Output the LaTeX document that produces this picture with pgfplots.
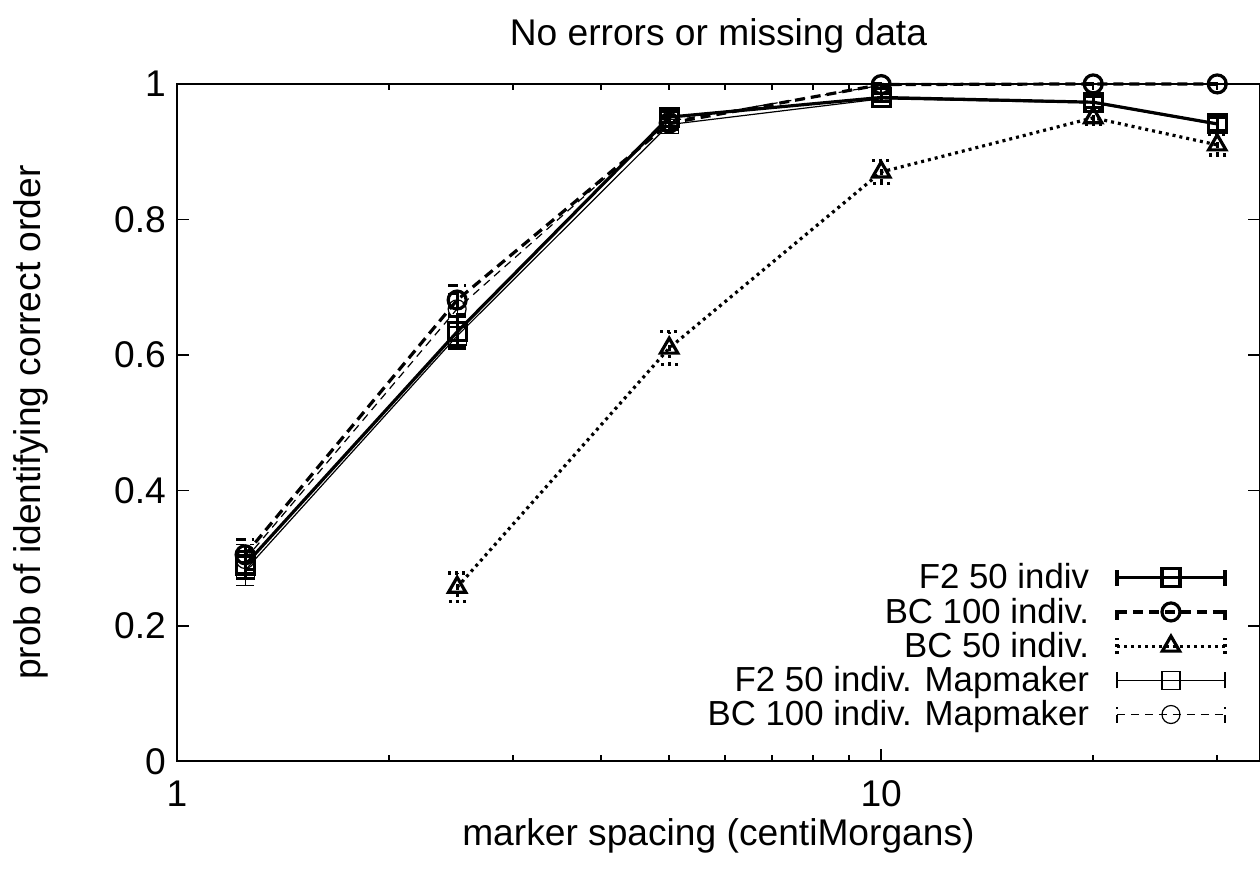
\documentclass[border=0pt]{standalone}
\usepackage{fontspec}
\setmainfont{Liberation Sans}
\usepackage{pgfplots}
\usepackage{pgfplotstable}
\pgfplotsset{compat=1.18}

\pgfplotstableread{
x y e
1.25 0.290 0.020
2.5 0.634 0.023
5 0.951 0.008
10 0.980 0.006
20 0.973 0.008
30 0.941 0.010
}\fii
\pgfplotstableread{
x y e
1.25 0.305 0.022
2.5 0.681 0.022
5 0.942 0.008
10 0.999 0.001
20 1.000 0.000
30 1.000 0.000
}\bcc
\pgfplotstableread{
x y e
2.5 0.257 0.021
5 0.610 0.024
10 0.870 0.017
20 0.950 0.010
30 0.910 0.015
}\bcf
\pgfplotstableread{
x y e
1.25 0.282 0.022
2.5 0.628 0.020
5 0.940 0.008
10 0.978 0.006
20 0.972 0.008
30 0.940 0.010
}\fiimm
\pgfplotstableread{
x y e
1.25 0.298 0.022
2.5 0.668 0.022
5 0.945 0.008
10 0.998 0.002
20 1.000 0.000
30 1.000 0.000
}\bccmm

\pgfplotsset{
  ebleg/.style={legend image code/.code={
    \path[draw=none, fill=none, mark=none] (0pt,0pt) -- (66pt,0pt);
    \draw[##1,mark=none] (12pt,0pt) -- (66pt,0pt);
    \draw[##1,mark=none] (12pt,-4pt) -- (12pt,4pt);
    \draw[##1,mark=none] (66pt,-4pt) -- (66pt,4pt);
    \draw[##1,only marks] plot coordinates {(39pt,0pt)};
  }},
}

\begin{document}
\begin{tikzpicture}[font=\fontsize{18.6}{22}\selectfont]
\begin{axis}[
  scale only axis,
  width=542pt, height=339pt,
  xmode=log, xmin=1, xmax=34.5, ymin=0, ymax=1,
  xtick={1,10}, xticklabels={1,10},
  minor xtick={2,3,4,5,6,7,8,9,20,30},
  ytick={0,0.2,0.4,0.6,0.8,1},
  yticklabels={0,0.2,0.4,0.6,0.8,1},
  /pgf/number format/assume math mode=true,
  tick align=inside,
  major tick length=6pt, minor tick length=3pt,
  tick style={line width=0.8pt, black},
  axis line style={line width=1pt},
  xticklabel style={yshift=-6pt},
  yticklabel style={xshift=-2pt},
  title={No errors or missing data},
  title style={yshift=6pt},
  xlabel={marker spacing (centiMorgans)},
  ylabel={prob of identifying correct order},
  xlabel style={yshift=1pt},
  ylabel style={yshift=26pt},
  clip=false,
  ebleg,
  legend plot pos=right,
  legend cell align=right,
  legend style={at={(0.975,0.036)}, anchor=south east, draw=none, fill=none,
    row sep=-1pt, font=\fontsize{17.4}{20}\selectfont},
  error bars/y dir=both, error bars/y explicit,
]
\addplot[black, line width=1.6pt, solid, mark=square, mark size=4.5pt,
  error bars/error bar style={line width=1.6pt, solid},
  error bars/error mark options={rotate=90, mark size=4.5pt, line width=1.6pt, solid}]
  table[x=x, y=y, y error=e] {\fii};
\addlegendentry{F2 50 indiv}
\addplot[black, line width=1.6pt, dash pattern=on 5pt off 3pt, mark=o, mark size=4.5pt, mark options={solid},
  error bars/error bar style={line width=1.6pt, dash pattern=on 5pt off 3pt},
  error bars/error mark options={rotate=90, mark size=4.5pt, line width=1.6pt, dash pattern=on 5pt off 3pt}]
  table[x=x, y=y, y error=e] {\bcc};
\addlegendentry{BC 100 indiv.}
\addplot[black, line width=1.6pt, dash pattern=on 1.5pt off 2pt, mark=triangle, mark size=5pt, mark options={solid},
  error bars/error bar style={line width=1.6pt, dash pattern=on 1.5pt off 2pt},
  error bars/error mark options={rotate=90, mark size=4.5pt, line width=1.6pt, dash pattern=on 1.5pt off 2pt}]
  table[x=x, y=y, y error=e] {\bcf};
\addlegendentry{BC 50 indiv.}
\addplot[black, line width=0.6pt, solid, mark=square, mark size=4.5pt,
  error bars/error bar style={line width=0.6pt, solid},
  error bars/error mark options={rotate=90, mark size=4.5pt, line width=0.6pt, solid}]
  table[x=x, y=y, y error=e] {\fiimm};
\addlegendentry{F2 50 indiv. Mapmaker}
\addplot[black, line width=0.6pt, dash pattern=on 4pt off 3pt, mark=o, mark size=4.5pt, mark options={solid},
  error bars/error bar style={line width=0.6pt, dash pattern=on 4pt off 3pt},
  error bars/error mark options={rotate=90, mark size=4.5pt, line width=0.6pt, dash pattern=on 4pt off 3pt}]
  table[x=x, y=y, y error=e] {\bccmm};
\addlegendentry{BC 100 indiv. Mapmaker}
\end{axis}
\pgfresetboundingbox
\path ([xshift=-88.5pt,yshift=-58pt]current axis.south west) rectangle ([yshift=42pt]current axis.north east);
\end{tikzpicture}
\end{document}
